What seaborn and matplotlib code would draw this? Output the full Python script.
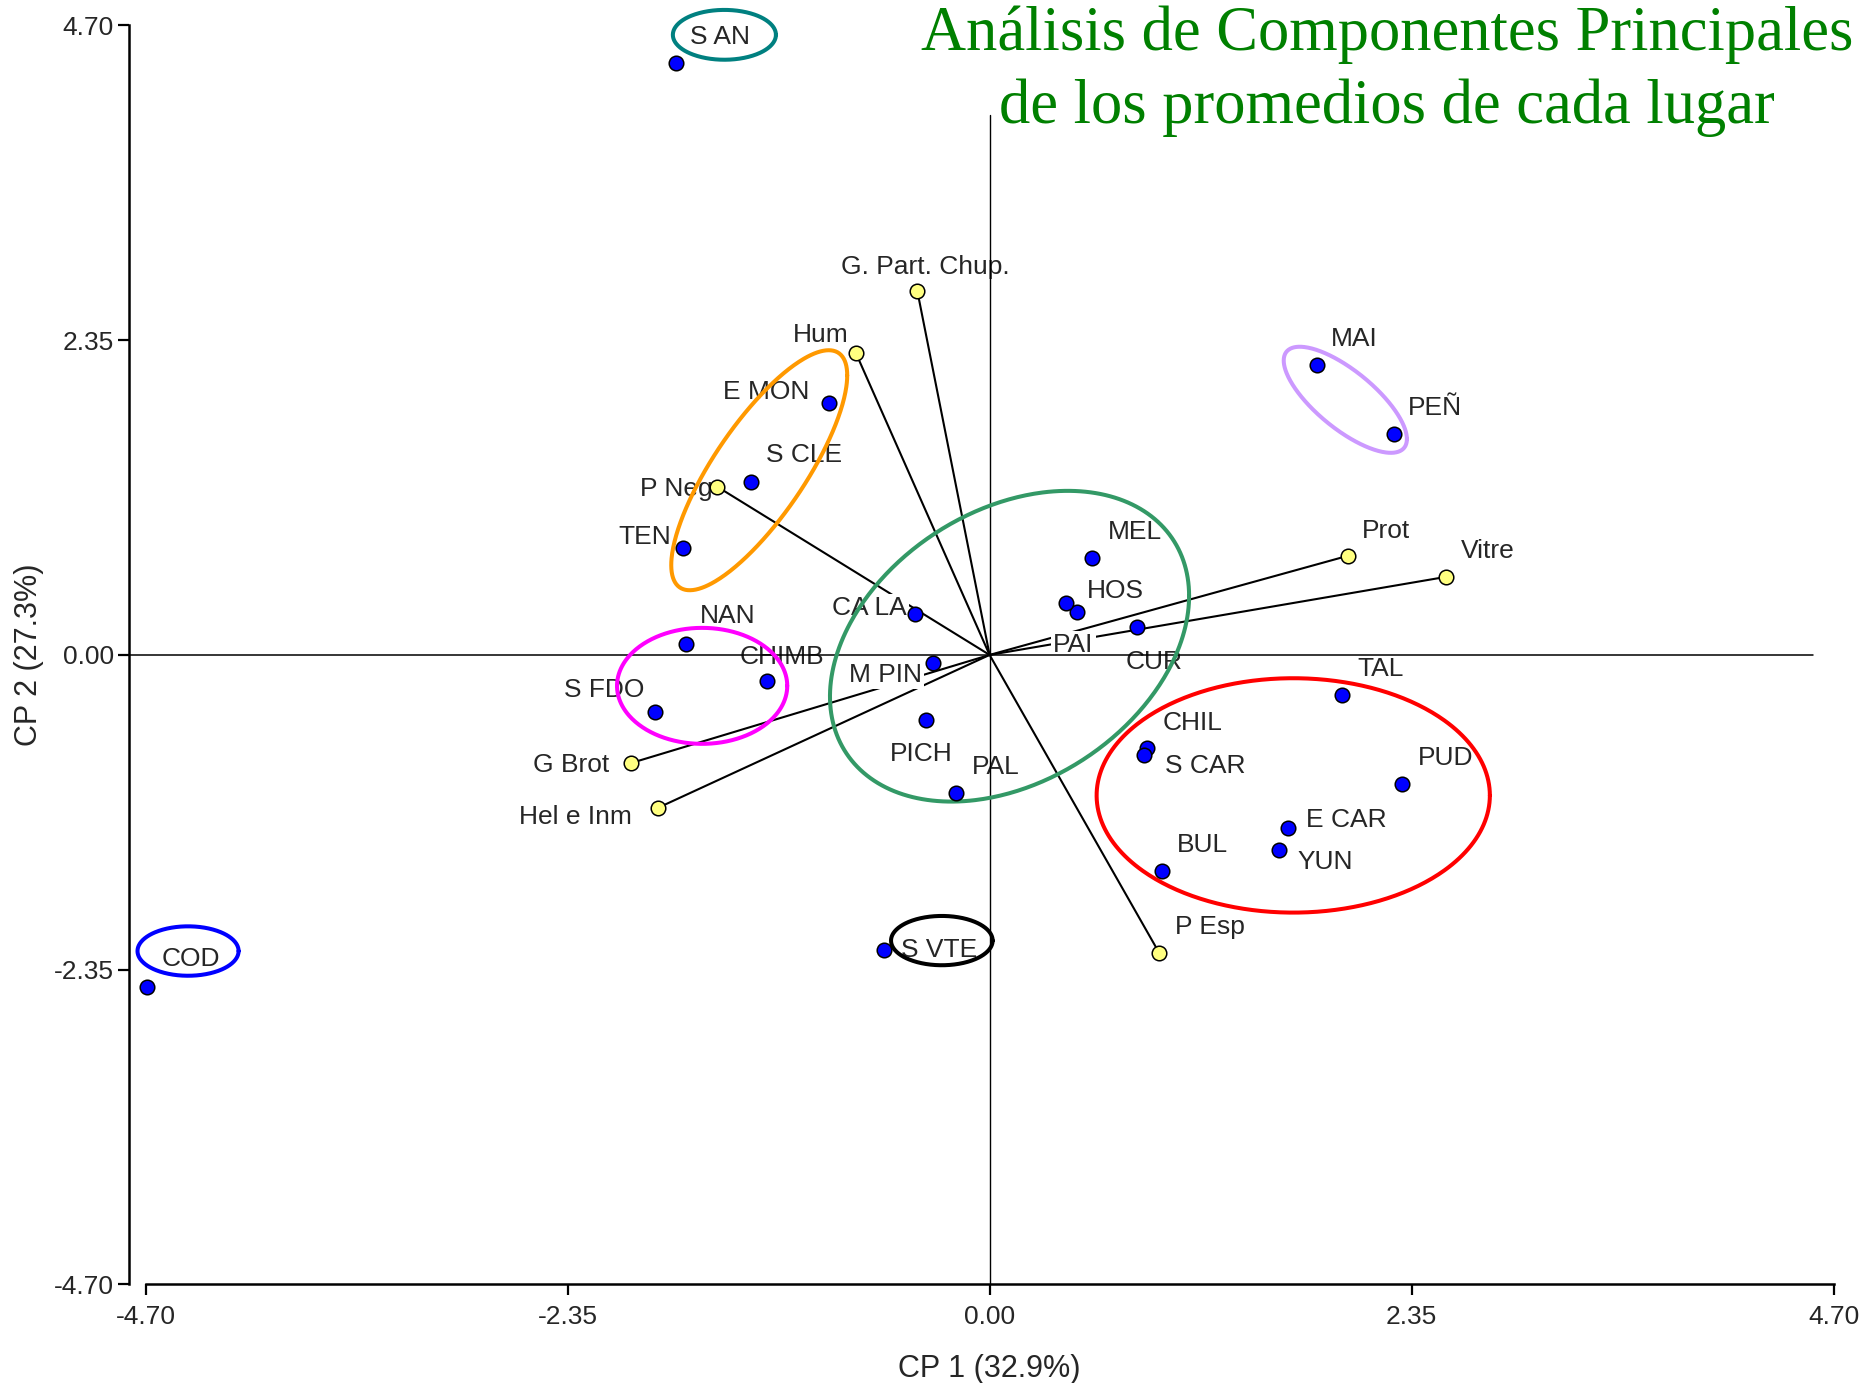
import numpy as np
import pandas as pd
import matplotlib
matplotlib.use("Agg")
import matplotlib.pyplot as plt
import seaborn as sns

# ---- Site scores on CP 1 / CP 2 ----
sites = ["S AN", "E MON", "S CLE", "TEN", "NAN", "CHIMB", "S FDO", "CA LA", "M PIN",
         "PICH", "PAL", "MEL", "HOS", "PAI", "CUR", "CHIL", "S CAR", "PUD", "E CAR",
         "YUN", "BUL", "TAL", "MAI", "PEÑ", "S VTE", "COD"]
site_cp1 = [-1.749, -0.895, -1.331, -1.706, -1.689, -1.241, -1.865, -0.415, -0.315,
            -0.355, -0.186, 0.571, 0.484, 0.426, 0.819, 0.875, 0.858, 2.295, 1.660,
            1.614, 0.962, 1.963, 1.821, 2.252, -0.589, -4.693]
site_cp2 = [4.418, 1.883, 1.290, 0.801, 0.084, -0.191, -0.426, 0.302, -0.062,
            -0.483, -1.033, 0.720, 0.324, 0.386, 0.212, -0.698, -0.744, -0.962, -1.295,
            -1.453, -1.615, -0.300, 2.167, 1.650, -2.203, -2.483]

# ---- Variable loadings ----
variables = ["G. Part. Chup.", "Hum", "P Neg", "Prot", "Vitre", "G Brot", "Hel e Inm", "P Esp"]
var_cp1 = [-0.402, -0.746, -1.518, 1.995, 2.543, -1.996, -1.849, 0.945]
var_cp2 = [2.714, 2.258, 1.257, 0.740, 0.583, -0.807, -1.143, -2.226]

tick_values = [-4.70, -2.35, 0.00, 2.35, 4.70]
tick_labels = ["-4.70", "-2.35", "0.00", "2.35", "4.70"]

title_lines = ["Análisis de Componentes Principales", "de los promedios de cada lugar"]
xlabel = "CP 1 (32.9%)"
ylabel = "CP 2 (27.3%)"

# label placement: (dx px, dy px downward, horizontal alignment)
site_label_pos = {
    "S AN": (14, -26, "left"), "E MON": (-20, -11, "right"), "S CLE": (15, -27, "left"),
    "TEN": (-12, -11, "right"), "NAN": (14, -28, "left"), "CHIMB": (-27, -24, "left"),
    "S FDO": (-10, -22, "right"), "CA LA": (-8, -6, "right"), "M PIN": (-11, 12, "right"),
    "PICH": (-36, 34, "left"), "PAL": (16, -26, "left"), "MEL": (16, -26, "left"),
    "HOS": (10, -21, "left"), "PAI": (-13, 42, "left"), "CUR": (-11, 35, "left"),
    "CHIL": (16, -25, "left"), "S CAR": (21, 11, "left"), "PUD": (16, -26, "left"),
    "E CAR": (18, -8, "left"), "YUN": (18, 12, "left"), "BUL": (15, -26, "left"),
    "TAL": (15, -26, "left"), "MAI": (14, -26, "left"), "PEÑ": (14, -26, "left"),
    "S VTE": (17, 0, "left"), "COD": (15, -28, "left"),
}
var_label_pos = {
    "G. Part. Chup.": (-76, -24, "left"), "Hum": (-7, -18, "right"),
    "P Neg": (-4, 2, "right"), "Prot": (14, -25, "left"), "Vitre": (15, -26, "left"),
    "G Brot": (-22, 2, "right"), "Hel e Inm": (-26, 9, "right"), "P Esp": (16, -26, "left"),
}

# group outlines: centre, half-width, half-height, x/y correlation, colour
groups = [
    (-1.477, 4.630, 0.287, 0.186, 0.00, "#008080"),
    (-1.283, 1.379, 0.490, 0.896, 0.79, "#FF9900"),
    (-1.601, -0.231, 0.474, 0.433, 0.00, "#FF00FF"),
    (0.111, 0.065, 1.000, 1.160, 0.324, "#339966"),
    (1.981, 1.905, 0.343, 0.396, -0.74, "#CC99FF"),
    (1.691, -1.049, 1.095, 0.875, 0.00, "#FF0000"),
    (-4.464, -2.211, 0.2815, 0.1845, 0.00, "#0000FF"),
    (-0.266, -2.133, 0.283, 0.184, 0.00, "#000000"),
]

sns.set_style("ticks")
plt.rcParams["font.family"] = ["Liberation Sans", "DejaVu Sans"]

fig = plt.figure(figsize=(18.7, 13.83), dpi=100)
ax = fig.add_axes([0.0779, 0.0713, 0.9026, 0.9103])

df_sites = pd.DataFrame({"CP1": site_cp1, "CP2": site_cp2, "lugar": sites})
df_vars = pd.DataFrame({"CP1": var_cp1, "CP2": var_cp2, "variable": variables})

# loading vectors from the origin
for x, y in zip(var_cp1, var_cp2):
    ax.plot([0, x], [0, y], color="black", lw=1.5, zorder=2, solid_capstyle="butt")

# reference axes through the origin
ax.axhline(0, xmin=-0.0098, xmax=0.9878, color="black", lw=1.1, zorder=4, clip_on=False)
ax.plot([0, 0], [-4.70, 4.03], color="black", lw=1.0, zorder=4)

label_box = dict(boxstyle="square,pad=0.08", fc="white", ec="none")
for name, x, y in zip(sites, site_cp1, site_cp2):
    dx, dy, ha = site_label_pos[name]
    ax.annotate(name, (x, y), xytext=(dx * 0.72, -dy * 0.72), textcoords="offset points",
                ha=ha, va="center", fontsize=19, bbox=label_box, zorder=3)
for name, x, y in zip(variables, var_cp1, var_cp2):
    dx, dy, ha = var_label_pos[name]
    ax.annotate(name, (x, y), xytext=(dx * 0.72, -dy * 0.72), textcoords="offset points",
                ha=ha, va="center", fontsize=19, bbox=label_box, zorder=3)

# group outlines
t = np.linspace(0, 2 * np.pi, 400)
for cx, cy, hw, hh, rho, col in groups:
    ex = cx + hw * np.cos(t)
    ey = cy + hh * (rho * np.cos(t) + np.sqrt(1 - rho ** 2) * np.sin(t))
    ax.plot(ex, ey, color=col, lw=2.9, zorder=5, clip_on=False)

sns.scatterplot(data=df_sites, x="CP1", y="CP2", ax=ax, color="#0000FF", s=110,
                edgecolor="black", linewidth=1.1, zorder=6, legend=False, clip_on=False)
sns.scatterplot(data=df_vars, x="CP1", y="CP2", ax=ax, color="#FFFF80", s=110,
                edgecolor="black", linewidth=1.1, zorder=6, legend=False, clip_on=False)

ax.set_xlim(-4.70, 4.70)
ax.set_ylim(-4.70, 4.70)
ax.set_xticks(tick_values)
ax.set_xticklabels(tick_labels)
ax.set_yticks(tick_values)
ax.set_yticklabels(tick_labels)
ax.tick_params(axis="both", direction="out", length=8, width=1.6, labelsize=19, color="black")
ax.tick_params(axis="x", pad=7)
ax.tick_params(axis="y", pad=3)

sns.despine(ax=ax)
ax.spines["left"].set_position(("outward", 12))
for side in ("left", "bottom"):
    ax.spines[side].set_linewidth(1.8)
    ax.spines[side].set_color("black")

ax.set_xlabel(xlabel, fontsize=22)
ax.set_ylabel(ylabel, fontsize=22)
ax.xaxis.set_label_coords(0.5, -0.055)
ax.yaxis.set_label_coords(-0.060, 0.5)

fig.text(0.7417, 0.9638, title_lines[0], ha="center", va="baseline", fontsize=45,
         color="#008000", family=["Liberation Serif", "DejaVu Serif"])
fig.text(0.7417, 0.9111, title_lines[1], ha="center", va="baseline", fontsize=45,
         color="#008000", family=["Liberation Serif", "DejaVu Serif"])

fig.savefig("out.png", dpi=100)
